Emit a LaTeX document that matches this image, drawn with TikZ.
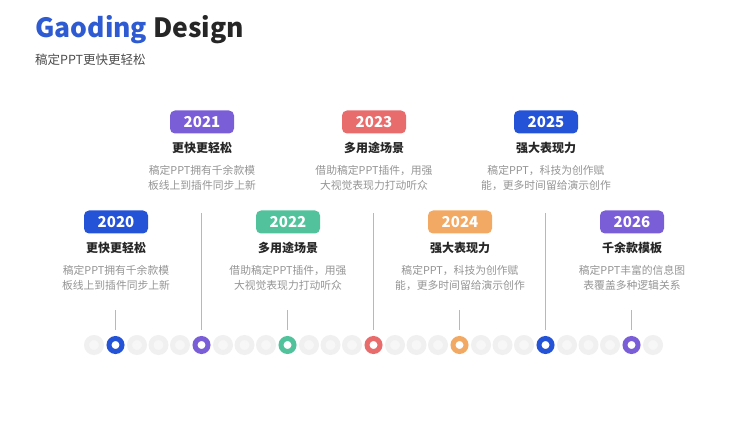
\documentclass[tikz,border=0pt]{standalone}
\usepackage{fontspec}
\setmainfont{Noto Sans CJK SC}
\usetikzlibrary{positioning}
\definecolor{gdblue}{HTML}{2553D8}
\definecolor{gdpurple}{HTML}{7A5ED8}
\definecolor{gdgreen}{HTML}{52C29D}
\definecolor{gdred}{HTML}{E96C6D}
\definecolor{gdorange}{HTML}{F2A964}
\definecolor{gdhead}{HTML}{2E5AD2}
\tikzset{
  yearbox/.style={rounded corners=5pt, minimum width=64pt, minimum height=23pt, inner sep=0pt,
    text=white, font=\fontsize{15}{15}\selectfont\bfseries},
  itemtitle/.style={font=\fontsize{12}{12}\selectfont\bfseries, text=black!85},
  itemtext/.style={font=\fontsize{10.8}{15}\selectfont, text=black!42, align=center, inner sep=0pt},
  dotgrey/.style={circle, inner sep=0pt, minimum size=15pt, line width=5pt, draw=black!6, fill=black!3},
  dotring/.style={circle, inner sep=0pt, minimum size=13pt, line width=5pt, fill=white},
  stem/.style={line width=1.2pt, draw=black!28},
}

\begin{document}
\begin{tikzpicture}[x=1pt, y=-1pt]
\useasboundingbox (0,0) rectangle (750,422);
% heading
\node[anchor=base west, inner sep=0pt, font=\fontsize{26.5}{26.5}\selectfont\bfseries] (head) at (35,38)
  {\textcolor{gdhead}{Gaoding} \textcolor{black!85}{Design}};
\node[anchor=base west, inner sep=0pt, font=\fontsize{12.5}{12.5}\selectfont, text=black!70] (sub) at (35,65) {稿定PPT更快更轻松};
% dot track
\foreach \k in {0,2,3,4,6,7,8,10,11,12,14,15,16,18,19,20,22,23,24,26}
  \node[dotgrey] (g\k) at (94+21.5*\k,345) {};
\node[dotring, draw=gdblue] (p2020) at (115.5,345) {};
\node[dotring, draw=gdpurple] (p2021) at (201.5,345) {};
\node[dotring, draw=gdgreen] (p2022) at (287.5,345) {};
\node[dotring, draw=gdred] (p2023) at (373.5,345) {};
\node[dotring, draw=gdorange] (p2024) at (459.5,345) {};
\node[dotring, draw=gdblue] (p2025) at (545.5,345) {};
\node[dotring, draw=gdpurple] (p2026) at (631.5,345) {};
% upper row
\node[yearbox, fill=gdpurple] (b2021) at (202,122) {2021};
\node[itemtitle, below=5pt of b2021] (t2021) {更快更轻松};
\node[itemtext, below=8pt of t2021] (x2021) {稿定PPT拥有千余款模\\板线上到插件同步上新};
\node[yearbox, fill=gdred] (b2023) at (374,122) {2023};
\node[itemtitle, below=5pt of b2023] (t2023) {多用途场景};
\node[itemtext, below=8pt of t2023] (x2023) {借助稿定PPT插件，用强\\大视觉表现力打动听众};
\node[yearbox, fill=gdblue] (b2025) at (546,122) {2025};
\node[itemtitle, below=5pt of b2025] (t2025) {强大表现力};
\node[itemtext, below=8pt of t2025] (x2025) {稿定PPT，科技为创作赋\\能，更多时间留给演示创作};
% lower row
\node[yearbox, fill=gdblue] (b2020) at (116,222) {2020};
\node[itemtitle, below=5pt of b2020] (t2020) {更快更轻松};
\node[itemtext, below=8pt of t2020] (x2020) {稿定PPT拥有千余款模\\板线上到插件同步上新};
\node[yearbox, fill=gdgreen] (b2022) at (288,222) {2022};
\node[itemtitle, below=5pt of b2022] (t2022) {多用途场景};
\node[itemtext, below=8pt of t2022] (x2022) {借助稿定PPT插件，用强\\大视觉表现力打动听众};
\node[yearbox, fill=gdorange] (b2024) at (460,222) {2024};
\node[itemtitle, below=5pt of b2024] (t2024) {强大表现力};
\node[itemtext, below=8pt of t2024] (x2024) {稿定PPT，科技为创作赋\\能，更多时间留给演示创作};
\node[yearbox, fill=gdpurple] (b2026) at (632,222) {2026};
\node[itemtitle, below=5pt of b2026] (t2026) {千余款模板};
\node[itemtext, below=8pt of t2026] (x2026) {稿定PPT丰富的信息图\\表覆盖多种逻辑关系};
% stems
\coordinate (s2020) at (115.5,310);
\coordinate (s2022) at (287.5,310);
\coordinate (s2024) at (459.5,310);
\coordinate (s2026) at (631.5,310);
\coordinate (s2021) at (201.5,213);
\coordinate (s2023) at (373.5,213);
\coordinate (s2025) at (545.5,213);
\foreach \y in {2020,...,2026}
  \draw[stem] (s\y) -- ([yshift=6pt]p\y.north);
\end{tikzpicture}
\end{document}
